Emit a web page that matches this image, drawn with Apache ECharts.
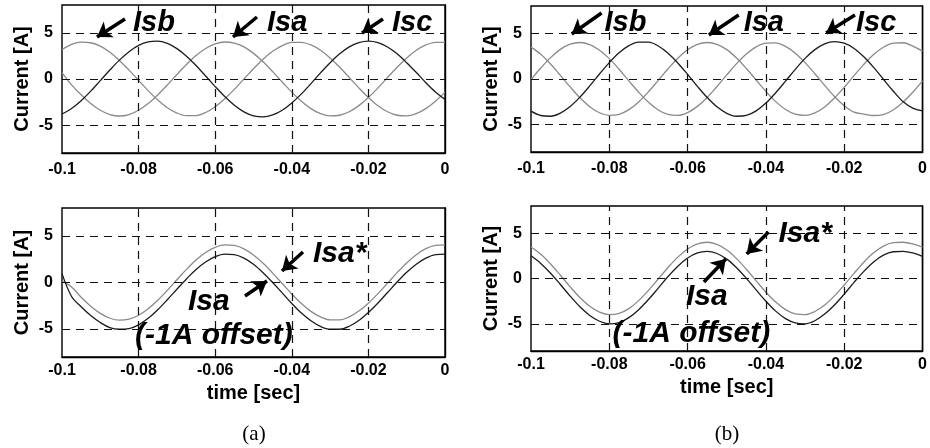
<!DOCTYPE html>
<html><head><meta charset="utf-8">
<script src="https://cdn.jsdelivr.net/npm/echarts@6/dist/echarts.min.js"></script>
<style>html,body{margin:0;padding:0;background:#fff}#c{width:930px;height:448px}</style>
</head><body><div id="c"></div>
<script>
// ---- data (time in seconds, current in amperes) ----
const time = [-0.1,-0.0975,-0.095,-0.0925,-0.09,-0.0875,-0.085,-0.0825,-0.08,-0.0775,-0.075,-0.0725,-0.07,-0.0675,-0.065,-0.0625,-0.06,-0.0575,-0.055,-0.0525,-0.05,-0.0475,-0.045,-0.0425,-0.04,-0.0375,-0.035,-0.0325,-0.03,-0.0275,-0.025,-0.0225,-0.02,-0.0175,-0.015,-0.0125,-0.01,-0.0075,-0.005,-0.0025,0];

// panel (a), top: three phase currents
const aIsb = [3.19,3.74,3.99,3.92,3.55,2.89,2.01,0.96,-0.15,-1.26,-2.27,-3.10,-3.68,-3.97,-3.95,-3.62,-3.00,-2.14,-1.12,0.00,1.11,2.14,2.99,3.61,3.95,3.97,3.68,3.10,2.27,1.27,0.16,-0.96,-2.00,-2.89,-3.54,-3.92,-3.99,-3.74,-3.20,-2.40,-1.42];
const aIsa = [0.70,-0.63,-1.71,-2.65,-3.38,-3.84,-4.00,-3.84,-3.38,-2.66,-1.72,-0.65,0.48,1.56,2.53,3.29,3.79,4.00,3.88,3.47,2.77,1.86,0.80,-0.32,-1.42,-2.40,-3.20,-3.74,-3.99,-3.92,-3.54,-2.88,-2.00,-0.96,0.16,1.27,2.27,3.10,3.68,3.97,3.95];
const aIsc = [-3.78,-3.18,-2.34,-1.31,-0.17,0.97,2.04,2.95,3.63,4.02,4.09,3.84,3.28,2.47,1.46,0.33,-0.82,-1.90,-2.84,-3.55,-3.98,-4.10,-3.89,-3.38,-2.59,-1.61,-0.50,0.66,1.76,2.72,3.47,3.94,4.10,3.94,3.46,2.72,1.76,0.70,-0.40,-1.40,-2.20];

// panel (b), top: three phase currents
const bIsb = [-0.06,1.20,2.34,3.25,3.82,4.00,3.77,3.16,2.23,1.07,-0.20,-1.45,-2.55,-3.39,-3.89,-3.99,-3.68,-3.00,-2.02,-0.82,0.45,1.68,2.74,3.52,3.94,3.96,3.57,2.83,1.79,0.57,-0.70,-1.91,-2.92,-3.63,-3.85,-4.00,-3.90,-3.40,-2.55,-1.45,-0.20];
const bIsa = [3.49,2.70,1.64,0.40,-0.87,-2.06,-3.03,-3.70,-3.99,-3.87,-3.36,-2.51,-1.40,-0.15,1.12,2.27,3.20,3.79,4.00,3.80,3.22,2.30,1.15,-0.11,-1.36,-2.48,-3.34,-3.86,-3.99,-3.71,-3.06,-2.09,-0.91,0.37,1.60,2.68,3.48,3.92,3.97,3.61,3.05];
const bIsc = [-3.52,-4.00,-4.08,-3.74,-3.02,-1.99,-0.76,0.55,1.80,2.87,3.65,4.05,4.04,3.62,2.83,1.76,0.50,-0.81,-2.03,-3.05,-3.76,-4.08,-3.99,-3.49,-2.64,-1.51,-0.24,1.06,2.26,3.22,3.86,4.10,3.92,3.35,2.43,1.27,-0.03,-1.32,-2.47,-3.20,-3.50];

// panel (a), bottom: reference Isa* and measured Isa (-1 A offset)
const aIsaRef = [0.15,-0.48,-1.58,-2.55,-3.32,-3.84,-4.05,-3.94,-3.52,-2.82,-1.91,-0.84,0.30,1.41,2.41,3.22,3.77,4.03,3.98,3.61,2.95,2.06,1.01,-0.11,-1.23,-2.26,-3.10,-3.70,-4.01,-4.01,-3.69,-3.07,-2.22,-1.19,-0.07,1.06,2.10,2.98,3.63,3.98,4.03];
const aIsaOff = [0.95,-1.50,-2.60,-3.55,-4.30,-4.85,-5.02,-4.95,-4.55,-3.85,-2.92,-1.85,-0.72,0.38,1.40,2.20,2.78,3.05,3.00,2.62,1.96,1.05,0.00,-1.12,-2.25,-3.28,-4.10,-4.72,-5.02,-5.02,-4.70,-4.08,-3.22,-2.20,-1.08,0.05,1.10,1.97,2.62,3.00,3.05];

// panel (b), bottom
const bIsaRef = [3.48,2.68,1.60,0.36,-0.92,-2.10,-3.07,-3.72,-3.99,-3.85,-3.32,-2.44,-1.31,-0.05,1.22,2.36,3.26,3.83,4.00,3.76,3.14,2.19,1.02,-0.26,-1.51,-2.60,-3.43,-3.90,-3.98,-3.64,-2.93,-1.92,-0.72,0.57,1.79,2.83,3.58,3.95,4.00,3.82,3.45];
const bIsaOff = [2.50,1.66,0.58,-0.66,-1.94,-3.12,-4.08,-4.72,-5.00,-4.86,-4.32,-3.44,-2.32,-1.06,0.22,1.36,2.26,2.83,3.00,2.76,2.14,1.19,0.02,-1.26,-2.51,-3.60,-4.43,-4.90,-5.00,-4.66,-3.93,-2.92,-1.72,-0.43,0.79,1.83,2.58,2.95,3.00,2.82,2.45];

// axes
const yTicks = [-5, 0, 5];
const xGridLines = [-0.08, -0.06, -0.04, -0.02];
const X_MIN = -0.1, X_MAX = 0, X_STEP = 0.02, Y_MIN = -8, Y_MAX = 8;

// annotations (data coordinates of each panel)
const arrows = [
  {g:0, from:[-0.08355,6.49], to:[-0.09086,4.54]},
  {g:0, from:[-0.04909,6.70], to:[-0.05535,4.54]},
  {g:0, from:[-0.01619,6.49], to:[-0.02167,4.97]},
  {g:1, from:[-0.08198,7.23], to:[-0.08959,4.93]},
  {g:1, from:[-0.04695,7.01], to:[-0.05457,4.82]},
  {g:1, from:[-0.01726,7.01], to:[-0.02462,5.04]},
  {g:2, from:[-0.03708,3.28], to:[-0.04256,1.23]},
  {g:2, from:[-0.05222,-1.45], to:[-0.04648,0.16]},
  {g:3, from:[-0.03934,5.13], to:[-0.04492,2.70]},
  {g:3, from:[-0.05584,-0.39], to:[-0.05025,2.15]}
];
const notes = [
  {g:0, at:[-0.08146,4.97], text:'Isb', size:29},
  {g:0, at:[-0.04648,4.97], text:'Isa', size:29},
  {g:0, at:[-0.01384,4.97], text:'Isc', size:29},
  {g:1, at:[-0.08122,5.04], text:'Isb', size:29},
  {g:1, at:[-0.04569,5.04], text:'Isa', size:29},
  {g:1, at:[-0.01701,5.04], text:'Isc', size:29},
  {g:2, at:[-0.03446,1.99], text:'Isa*', size:30},
  {g:2, at:[-0.06710,-3.17], text:'Isa', size:30},
  {g:2, at:[-0.08094,-6.82], text:'(-1A offset)', size:30},
  {g:3, at:[-0.03680,3.81], text:'Isa*', size:30},
  {g:3, at:[-0.06041,-3.14], text:'Isa', size:30},
  {g:3, at:[-0.07919,-7.23], text:'(-1A offset)', size:30}
];

// ---- styles / layout ----
const GRAY = '#8a8a8a', DARK = '#1c1c1c';
const SANS = '"Liberation Sans", Arial, sans-serif';
const panels = [
  {grid:{left:62, top:5, width:383, height:148}, lines:[['Isb',aIsb,GRAY],['Isa',aIsa,GRAY],['Isc',aIsc,DARK]], xName:'', lblMargin:9},
  {grid:{left:531, top:6, width:394, height:146}, lines:[['Isb',bIsb,GRAY],['Isa',bIsa,GRAY],['Isc',bIsc,DARK]], xName:'', lblMargin:9},
  {grid:{left:62, top:208, width:383, height:149}, lines:[['Isa*',aIsaRef,GRAY],['Isa',aIsaOff,DARK]], xName:'time [sec]', lblMargin:6},
  {grid:{left:531, top:206, width:394, height:145}, lines:[['Isa*',bIsaRef,GRAY],['Isa',bIsaOff,DARK]], xName:'time [sec]', lblMargin:6}
];

const chart = echarts.init(document.getElementById('c'), null, {renderer:'canvas'});
const fmtX = v => { const r = Math.round(v*100)/100; return r === 0 ? '0' : String(r); };

const option = {
  animation:false,
  backgroundColor:'#fff',
  grid: panels.map(p => Object.assign({show:true, borderColor:'#000', borderWidth:1.4, backgroundColor:'transparent', containLabel:false}, p.grid)),
  xAxis: panels.map((p,i) => ({
    type:'value', gridIndex:i, min:X_MIN, max:X_MAX, interval:X_STEP,
    axisLine:{show:true, onZero:false, lineStyle:{color:'#000', width:1.4}},
    axisTick:{show:false}, splitLine:{show:false},
    axisLabel:{formatter:fmtX, color:'#000', fontWeight:'bold', fontSize:16, fontFamily:SANS, margin:p.lblMargin},
    name:p.xName, nameLocation:'middle', nameGap:26,
    nameTextStyle:{color:'#000', fontWeight:'bold', fontSize:20, fontFamily:SANS}
  })),
  yAxis: panels.map((p,i) => ({
    type:'value', gridIndex:i, min:Y_MIN, max:Y_MAX,
    axisLine:{show:true, lineStyle:{color:'#000', width:1.4}},
    axisTick:{show:false}, splitLine:{show:false},
    axisLabel:{customValues:yTicks, color:'#000', fontWeight:'bold', fontSize:16, fontFamily:SANS, margin:9},
    name:'Current [A]', nameLocation:'middle', nameGap:30, nameRotate:90,
    nameTextStyle:{color:'#000', fontWeight:'bold', fontSize:20, fontFamily:SANS}
  })),
  series: []
};

panels.forEach((p,i) => {
  // dashed grid lines
  option.series.push({
    type:'line', xAxisIndex:i, yAxisIndex:i, data:[], silent:true, z:1,
    markLine:{silent:true, symbol:['none','none'], label:{show:false}, animation:false,
      lineStyle:{type:[8,6], color:'#111', width:1.2},
      emphasis:{disabled:true},
      data:[...yTicks.map(v => ({yAxis:v})), ...xGridLines.map(v => ({xAxis:v}))]}
  });
  p.lines.forEach(([name, vals, color]) => {
    option.series.push({
      type:'line', name, xAxisIndex:i, yAxisIndex:i, showSymbol:false, smooth:0.35, z:3,
      lineStyle:{color, width:1.3}, itemStyle:{color},
      data: time.map((t,k) => [t, vals[k]])
    });
  });
  // arrows
  option.series.push({
    type:'line', xAxisIndex:i, yAxisIndex:i, data:[], silent:true, z:5,
    markLine:{silent:true, symbol:['none','arrow'], symbolSize:14, label:{show:false}, animation:false,
      lineStyle:{type:'solid', color:'#000', width:3.5},
      emphasis:{disabled:true},
      data: arrows.filter(a => a.g === i).map(a => [{coord:a.from}, {coord:a.to}])}
  });
});

chart.setOption(option);

// text annotations placed through the panels' own coordinate systems
const graphics = notes.map(n => {
  const p = chart.convertToPixel({gridIndex:n.g}, n.at);
  return {type:'text', z:10, silent:true, x:p[0], y:p[1] - 0.35*n.size,
    style:{text:n.text, fill:'#000', font:'italic bold ' + n.size + 'px ' + SANS, align:'left', verticalAlign:'middle'}};
});
graphics.push({type:'text', z:10, x:254, y:434, style:{text:'(a)', fill:'#000', font:'21px "Liberation Serif", "Times New Roman", serif', align:'center', verticalAlign:'middle'}});
graphics.push({type:'text', z:10, x:727, y:434, style:{text:'(b)', fill:'#000', font:'21px "Liberation Serif", "Times New Roman", serif', align:'center', verticalAlign:'middle'}});
chart.setOption({graphic: graphics});
</script>
</body></html>
